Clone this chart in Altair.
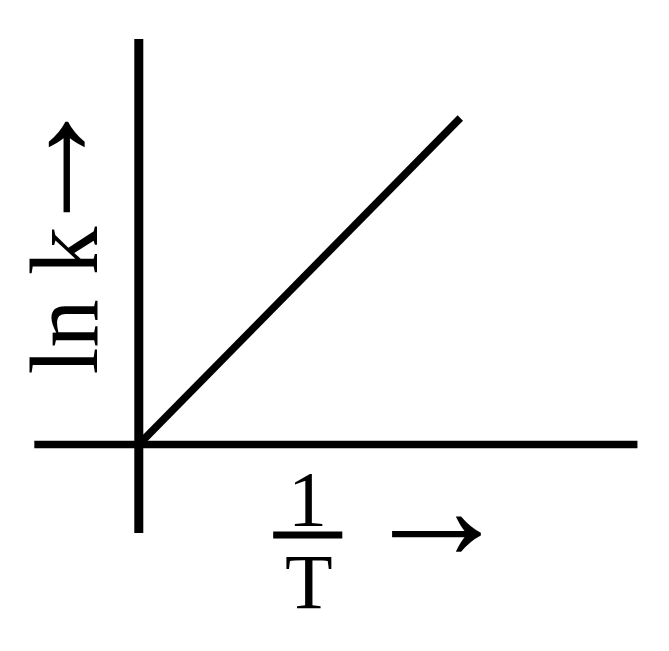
import altair as alt
import pandas as pd

# Schematic: ln k versus 1/T, straight line through the origin
# (abstract units: origin at 0, line end at 1)
line_u = [0.0, 1.0]
line_v = [0.0, 1.0]

# axis lines (u: 1/T direction, v: ln k direction)
haxis_u = [-0.325, 1.551]
haxis_v = [0.0, 0.0]
vaxis_u = [0.0, 0.0]
vaxis_v = [-0.271, 1.242]

# fraction bar of 1/T
frac_u = [0.418, 0.633]
frac_v = [-0.2773, -0.2773]

labels = ["ln k", "\u2192", "1", "T", "\u2192"]
label_u = [-0.129, -0.290, 0.525, 0.529, 0.925]
label_v = [0.441, 0.851, -0.2466, -0.5008, -0.214]
label_angle = [270, 270, 0, 0, 0]
label_size = [97, 153, 78, 78, 150]
label_baseline = ["alphabetic", "middle", "alphabetic", "alphabetic", "middle"]

W, H = 650, 630
KX, KY = 321.5, 326.5
OX, OY = 130.8, 436.5  # origin in chart pixels

xs = alt.Scale(domain=[-OX / KX, (W - OX) / KX], nice=False, zero=False)
ys = alt.Scale(domain=[(OY - H) / KY, OY / KY], nice=False, zero=False)

def seg(u, v):
    return pd.DataFrame({"u": [u[0]], "v": [v[0]], "u2": [u[1]], "v2": [v[1]]})

def rule(df, width):
    return alt.Chart(df).mark_rule(color="black", strokeWidth=width, strokeCap="butt").encode(
        x=alt.X("u:Q", scale=xs, axis=None),
        y=alt.Y("v:Q", scale=ys, axis=None),
        x2="u2:Q",
        y2="v2:Q",
    )

hax = rule(seg(haxis_u, haxis_v), 7.6)
vax = rule(seg(vaxis_u, vaxis_v), 9)
frac = rule(seg(frac_u, frac_v), 7)
main = rule(seg(line_u, line_v), 7.5)

lab = pd.DataFrame({"t": labels, "u": label_u, "v": label_v})

def text(i):
    return alt.Chart(lab.iloc[[i]]).mark_text(
        font="Liberation Serif", fontSize=label_size[i], color="black",
        align="center", baseline=label_baseline[i], angle=int(label_angle[i]),
    ).encode(
        x=alt.X("u:Q", scale=xs, axis=None),
        y=alt.Y("v:Q", scale=ys, axis=None),
        text="t:N",
    )

chart = alt.layer(
    hax, vax, main, frac, *[text(i) for i in range(len(labels))]
).properties(
    width=W, height=H, padding=0,
    autosize=alt.AutoSizeParams(type="none"),
).configure_view(stroke=None)

chart.save("out.html", embed_options={"renderer": "svg", "actions": False})
